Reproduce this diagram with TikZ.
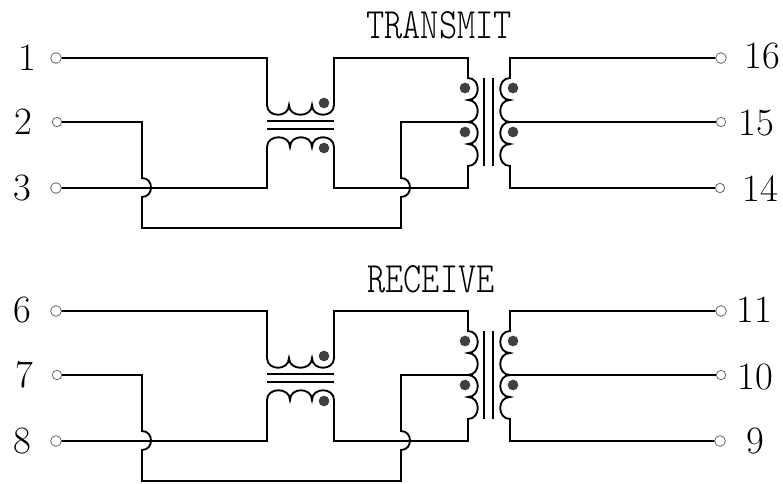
\documentclass[tikz,border=0pt]{standalone}
\usepackage{tikz}

\tikzset{
    pin/.style={draw=black!60,circle,fill=white,line width=0.6pt,inner sep=0pt,minimum size=#1},
    pin/.default=8pt,
    wire/.style={line width=1.4pt,line join=miter},
    bar/.style={line width=1.6pt},
    pindot/.style={fill=black!75,circle,inner sep=0pt,minimum size=8pt},
    pinlabel/.style={font=\fontsize{29}{32}\selectfont,inner sep=0pt},
    titlelabel/.style={font=\fontsize{26}{30}\selectfont\ttfamily\fontseries{l}\selectfont,inner sep=0pt,yscale=1.25,transform shape},
    hump/.style={to path={.. controls +(#1) and +(#1) .. (\tikztotarget)}}
}

\begin{document}
\begin{tikzpicture}[x=0.75pt,y=-0.75pt]
        \useasboundingbox (0,0) rectangle (783,483);

        % pins on the left
        \node[pin] (p1) at (56,58){};
        \node[pin=7pt] (p2) at (57,122){};
        \node[pin] (p3) at (56,188){};
        \node[pin] (p6) at (56,311){};
        \node[pin=7pt] (p7) at (57,375){};
        \node[pin] (p8) at (56,441){};

        % pins on the right
        \node[pin] (p16) at (721,58){};
        \node[pin=7pt] (p15) at (721,122){};
        \node[pin=7pt] (p14) at (720,188){};
        \node[pin] (p11) at (721,311){};
        \node[pin=7pt] (p10) at (721,375){};
        \node[pin] (p9) at (720,441){};

        \node[pinlabel] (l1) at (27,58){1};
        \node[pinlabel] (l2) at (23,122){2};
        \node[pinlabel] (l3) at (22,188){3};
        \node[pinlabel] (l6) at (22,310){6};
        \node[pinlabel] (l7) at (24,375){7};
        \node[pinlabel] (l8) at (22,441){8};
        \node[pinlabel] (l16) at (762,56){16};
        \node[pinlabel] (l15) at (756,123){15};
        \node[pinlabel] (l14) at (760,189){14};
        \node[pinlabel] (l11) at (754,310){11};
        \node[pinlabel] (l10) at (755,377){10};
        \node[pinlabel] (l9) at (755,441){9};

        \node[titlelabel] (transmit) at (439,25){TRANSMIT};
        \node[titlelabel] (receive) at (431,279){RECEIVE};

        % one block for each channel
        \foreach \dy/\a/\b/\c/\d/\e/\f in {0/1/2/3/16/15/14, 253/6/7/8/11/10/9}{
        \begin{scope}[shift={(0,\dy)}]
            \draw[wire] (p\a) -| (267,105) to[hump={0,13}] (289,105) to[hump={0,13}] (312,105)
                to[hump={0,13}] (334,105) |- (468,58) -- (468,78)
                to[hump={13,0}] (468,100) to[hump={13,0}] (468,122) to[hump={13,0}] (468,144)
                to[hump={13,0}] (468,166) -- (468,188) -| (334,147)
                to[hump={0,-13}] (312,147) to[hump={0,-13}] (290,147) to[hump={0,-13}] (267,147)
                -- (267,188) -- (p\c);

            \draw[wire] (p\b) -| (142,178) to[hump={12,0}] (142,197) |- (401,228) -- (401,197)
                to[hump={12,0}] (401,178) |- (468,122);

            \draw[wire] (p\d) -| (510,78) to[hump={-13,0}] (510,100) to[hump={-13,0}] (510,122)
                to[hump={-13,0}] (510,144) to[hump={-13,0}] (510,166) |- (p\f);
            \draw[wire] (510,122) -- (p\e);

            \draw[bar] (267,121) -- (334,121);
            \draw[bar] (267,129) -- (334,129);
            \draw[bar] (484,78) -- (484,166);
            \draw[bar] (493,78) -- (493,166);

            \node[pindot] (dota\a) at (324,103){};
            \node[pindot] (dotb\a) at (324,148){};
            \node[pindot] (dotc\a) at (465,88){};
            \node[pindot] (dotd\a) at (465,132){};
            \node[pindot] (dote\a) at (513,88){};
            \node[pindot] (dotf\a) at (513,132){};
        \end{scope}
        }
    \end{tikzpicture}
\end{document}
